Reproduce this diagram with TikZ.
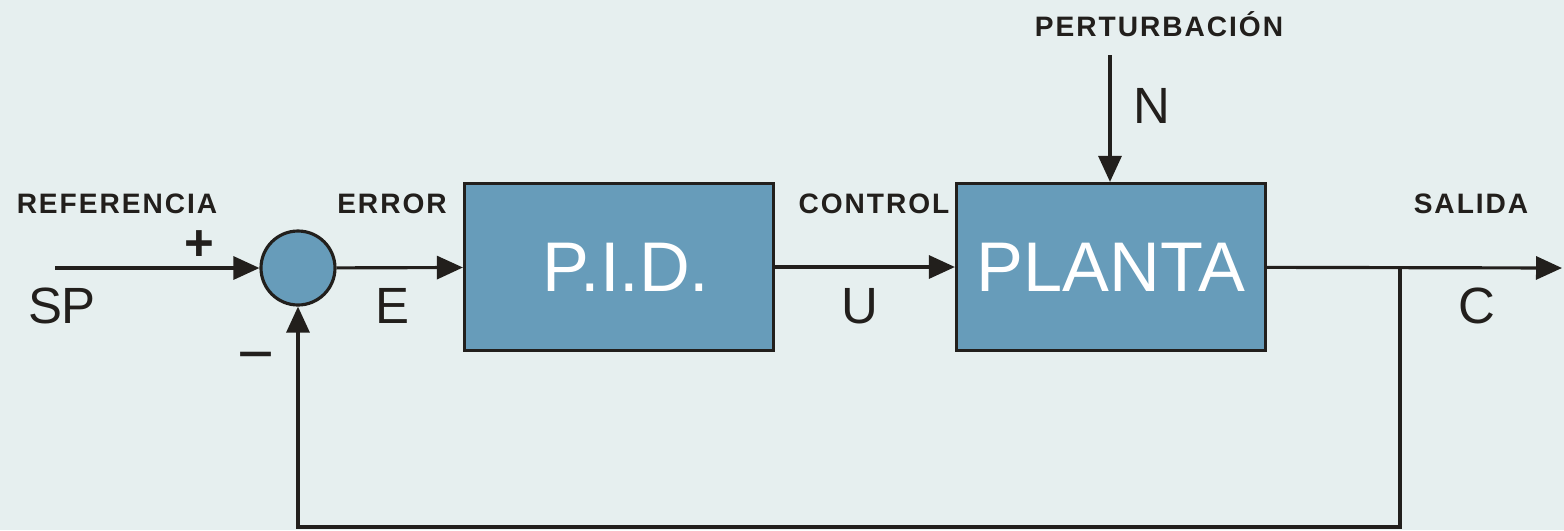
\documentclass[tikz,border=0pt]{standalone}
\usepackage{fontspec}
\setmainfont{Liberation Sans}
\usetikzlibrary{arrows.meta}

\definecolor{block blue}{HTML}{679CBA}
\definecolor{paper}{HTML}{E6EFEF}
\definecolor{ink}{HTML}{221F1C}

\tikzstyle{wire}=[draw=ink, line width=0.9pt]
\tikzstyle{signal}=[wire, -{Triangle[length=0.26cm, width=0.23cm]}]
\tikzstyle{block}=[rectangle, draw=ink, line width=0.9pt, fill=block blue, text=white, minimum width=3.09cm, minimum height=1.67cm, font=\fontsize{20}{24}\selectfont]
\tikzstyle{sum}=[circle, draw=ink, line width=0.9pt, fill=block blue, minimum size=0.74cm, inner sep=0pt]
\tikzstyle{tag}=[text=ink, anchor=base, inner sep=0pt, font=\bfseries\fontsize{8}{10}\selectfont\addfontfeatures{LetterSpace=7}]
\tikzstyle{var}=[text=ink, anchor=base, inner sep=0pt, font=\fontsize{14.5}{17}\selectfont]
\tikzstyle{sign}=[text=ink, inner sep=0pt, font=\fontsize{14.5}{17}\selectfont]

\begin{document}
\begin{tikzpicture}
	\useasboundingbox[fill=paper] (0, 0) rectangle (15.64, 5.30);

	% Lazo: comparador, controlador y planta
	\node[sum] (sum) at (2.98, 2.62) {};
	\node[block] (pid) at (6.19, 2.63) {};
	\node[block] (planta) at (11.11, 2.63) {PLANTA};
	\node[text=white, font=\fontsize{20}{24}\selectfont] (pid text) at (6.26, 2.63) {P.I.D.};

	\coordinate (sp) at (0.55, 2.62);
	\coordinate (branch) at (14.00, 2.62);
	\coordinate (out) at (15.62, 2.62);
	\coordinate (low) at (14.00, 0.03);
	\coordinate (dist) at (11.10, 4.75);

	% Flechas de senal
	\draw[signal] (sp) -- (sum);
	\draw[signal] (sum) -- (pid);
	\draw[signal] (pid) -- (planta);
	\draw[signal] (planta) -- (out);
	\draw[signal] (dist) -- (dist |- planta.north);

	% Realimentacion
	\draw[signal] (branch) -- (low) -| (sum.south);

	% Rotulos
	\node[tag] (referencia) at (1.17, 3.17) {REFERENCIA};
	\node[tag] (error) at (3.92, 3.17) {ERROR};
	\node[tag] (control) at (8.74, 3.17) {CONTROL};
	\node[tag] (salida) at (14.71, 3.17) {SALIDA};
	\node[tag] (perturbacion) at (11.59, 4.94) {PERTURBACIÓN};

	\node[var] (sp label) at (0.62, 2.07) {SP};
	\node[var] (e label) at (3.92, 2.07) {E};
	\node[var] (u label) at (8.60, 2.07) {U};
	\node[var] (c label) at (14.77, 2.07) {C};
	\node[var] (n label) at (11.52, 4.07) {N};

	\node[sign, font=\bfseries\fontsize{14.5}{17}\selectfont] (plus) at (1.99, 2.84) {+};
	\node[sign, font=\fontsize{18}{20}\selectfont] (minus) at (2.56, 1.66) {−};
\end{tikzpicture}
\end{document}
